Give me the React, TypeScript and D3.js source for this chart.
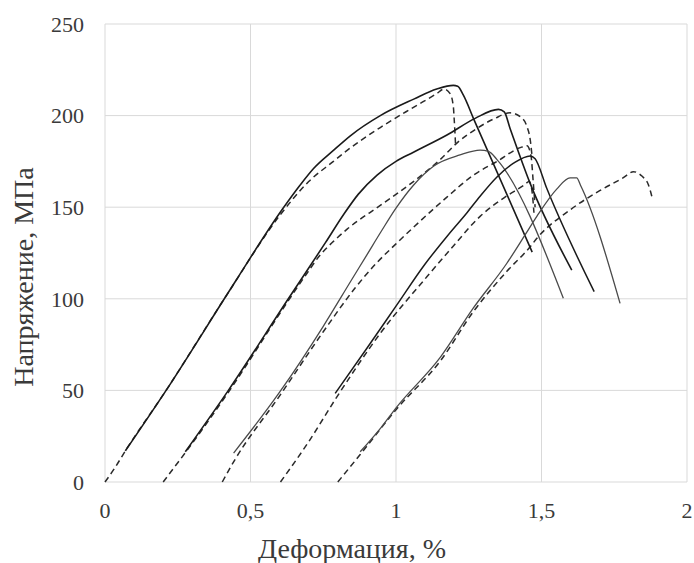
import React from "react";
import * as d3 from "d3";

const xTicks = [0, 0.5, 1, 1.5, 2];
const xTickLabels = ["0", "0,5", "1", "1,5", "2"];
const yTicks = [0, 50, 100, 150, 200, 250];
const xTitle = "Деформация, %";
const yTitle = "Напряжение, МПа";

// solid curves
const solid1 = [[0.07,17],[0.21,50],[0.41,100],[0.45,110],[0.61,149],[0.67,162],[0.716,171],[0.785,181],[0.843,189],[0.946,200],[1.061,209],[1.14,214.5],[1.197,216.5],[1.212,216],[1.232,211],[1.266,198.5],[1.468,125.5]];
const solid2 = [[0.276,16.5],[0.424,50],[0.63,100],[0.757,130.5],[0.82,146],[0.87,157],[0.935,167.5],[1.0,175],[1.06,180],[1.175,189.4],[1.272,198.5],[1.352,203.4],[1.372,202],[1.392,193],[1.461,163],[1.604,115.7]];
const solid3 = [[0.442,15.8],[0.6,49],[0.75,85],[0.846,110],[0.9,124],[0.95,137],[1.0,149.5],[1.06,162],[1.13,172.5],[1.22,178.5],[1.289,181.2],[1.318,180.5],[1.347,176],[1.575,100.3]];
const solid4 = [[0.791,48.4],[0.9,73],[1.0,96],[1.1,119],[1.18,135],[1.244,147],[1.289,156],[1.347,166.5],[1.404,174],[1.461,178],[1.478,176.5],[1.518,160.3],[1.681,103.9]];
const solid5 = [[0.877,16.5],[0.95,30],[1.003,41],[1.152,68],[1.266,95],[1.381,119.4],[1.444,135],[1.484,145],[1.553,160],[1.598,166],[1.621,166],[1.634,162],[1.77,97.5]];

// dashed curves
const dash1 = [[0,0],[0.035,8],[0.07,17],[0.21,50],[0.41,100],[0.603,146],[0.70,164],[0.785,175],[0.832,181],[0.946,193.5],[1.06,204.5],[1.14,212],[1.165,214.5],[1.186,212],[1.197,205],[1.2,198],[1.205,183]];
const dash2 = [[0.2,0],[0.238,8],[0.276,16],[0.424,49],[0.63,99],[0.69,113],[0.74,124],[0.786,131.5],[0.832,138],[0.946,151],[1.06,164],[1.152,176],[1.209,185],[1.278,193],[1.34,198.5],[1.392,201.5],[1.43,199],[1.45,194],[1.462,186],[1.468,177]];
const dash3 = [[0.403,0],[0.442,11],[0.6,47],[0.75,82],[0.86,106],[0.93,119],[1.0,130],[1.06,139],[1.175,155.5],[1.266,167.5],[1.347,175],[1.427,182.5],[1.45,183.5],[1.464,178],[1.471,165],[1.478,150]];
const dash4 = [[0.603,0],[0.7,22],[0.791,45],[0.95,82],[1.106,112],[1.198,129],[1.289,145],[1.37,155],[1.44,162],[1.458,164],[1.468,158],[1.474,147]];
const dash5 = [[0.8,0],[0.877,15],[1.003,40],[1.152,66],[1.266,93],[1.381,115],[1.461,128.4],[1.484,133],[1.598,148.5],[1.7,159],[1.78,166],[1.816,169.4],[1.845,167],[1.868,162],[1.879,156]];

const solidSeries = [
  { data: solid1, color: "#1a1a1a", width: 1.6 },
  { data: solid2, color: "#1a1a1a", width: 1.6 },
  { data: solid3, color: "#4a4a4a", width: 1.3 },
  { data: solid4, color: "#1a1a1a", width: 1.5 },
  { data: solid5, color: "#4a4a4a", width: 1.3 },
];
const dashedSeries = [dash1, dash2, dash3, dash4, dash5];

export default function App() {
  const W = 694, H = 563;
  const x = d3.scaleLinear().domain([0, 2]).range([105, 687]);
  const y = d3.scaleLinear().domain([0, 250]).range([482, 24]);
  const line = d3
    .line<number[]>()
    .x((d) => x(d[0]))
    .y((d) => y(d[1]))
    .curve(d3.curveMonotoneX);
  const font = "'Liberation Serif', 'Times New Roman', serif";
  return (
    <svg width={W} height={H} style={{ position: "absolute", left: 0, top: 0, background: "#fff" }}>
      <rect x={0} y={0} width={W} height={H} fill="#fff" />
      {xTicks.map((t) => (
        <line key={"gx" + t} x1={x(t)} x2={x(t)} y1={y(0)} y2={y(250)} stroke="#d9d9d9" strokeWidth={1} />
      ))}
      {yTicks.map((t) => (
        <line key={"gy" + t} x1={x(0)} x2={x(2)} y1={y(t)} y2={y(t)} stroke="#d9d9d9" strokeWidth={1} />
      ))}
      {dashedSeries.map((d, i) => (
        <path key={"d" + i} d={line(d as any) || ""} fill="none" stroke="#2a2a2a" strokeWidth={1.5} strokeDasharray="6,4" />
      ))}
      {solidSeries.map((s, i) => (
        <path key={"s" + i} d={line(s.data as any) || ""} fill="none" stroke={s.color} strokeWidth={s.width} />
      ))}
      {xTicks.map((t, i) => (
        <text key={"tx" + t} x={x(t)} y={518} textAnchor="middle" fontFamily={font} fontSize={22} fill="#3a3a3a">
          {xTickLabels[i]}
        </text>
      ))}
      {yTicks.map((t) => (
        <text key={"ty" + t} x={84} y={y(t)} dy="0.35em" textAnchor="end" fontFamily={font} fontSize={22} fill="#3a3a3a">
          {t}
        </text>
      ))}
      <text x={352} y={558} textAnchor="middle" fontFamily={font} fontSize={28} fill="#3a3a3a">
        {xTitle}
      </text>
      <text transform={`translate(33,277) rotate(-90)`} textAnchor="middle" fontFamily={font} fontSize={28} fill="#3a3a3a">
        {yTitle}
      </text>
    </svg>
  );
}
